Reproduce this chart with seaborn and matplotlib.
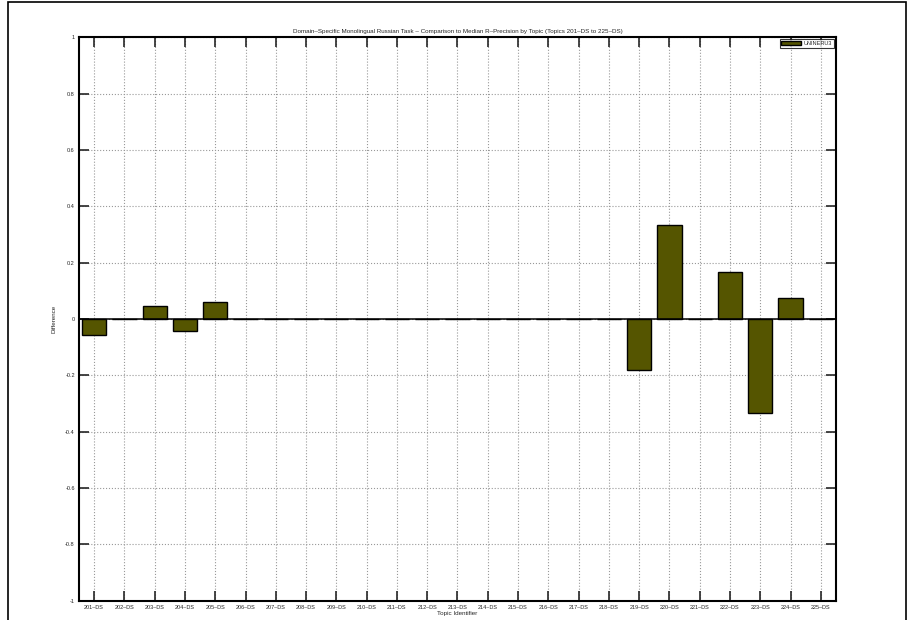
import matplotlib
matplotlib.use("Agg")
import matplotlib.pyplot as plt
import pandas as pd
import seaborn as sns
from matplotlib.patches import Rectangle

topics = [f"{n}\u2013DS" for n in range(201, 226)]
diff = [-0.056, 0.0, 0.047, -0.044, 0.061, 0.0, 0.0, 0.0, 0.0, 0.0,
        0.0, 0.0, 0.0, 0.0, 0.0, 0.0, 0.0, 0.0, -0.182, 0.333,
        0.0, 0.167, -0.333, 0.074, 0.0]
run_label = "UNINERU3"
y_ticks = [-1, -0.8, -0.6, -0.4, -0.2, 0, 0.2, 0.4, 0.6, 0.8, 1]

df = pd.DataFrame({"topic": topics, "diff": diff})

sns.set_style("white")
plt.rcParams["font.family"] = ["Liberation Sans", "DejaVu Sans"]

fig = plt.figure(figsize=(9.12, 6.2), dpi=100)
ax = fig.add_axes([0.0866, 0.031, 0.830, 0.909])

sns.barplot(data=df, x="topic", y="diff", color="#555500", edgecolor="black",
            linewidth=1.0, width=0.8, saturation=1, label=run_label, ax=ax, zorder=3)
# solid baseline across the whole axis, as in the original
ax.axhline(0, color="black", linewidth=1.1, zorder=4)

ax.set_xlim(-0.5, len(topics) - 0.5)
ax.set_ylim(-1, 1)
ax.set_yticks(y_ticks)
ax.set_yticklabels([f"{v:g}" for v in y_ticks])
ax.grid(True, linestyle=":", color="#999999", linewidth=0.8)
ax.set_axisbelow(True)
ax.tick_params(direction="in", length=7, width=1.2, labelsize=4,
               left=True, bottom=True, top=True, right=True, pad=3)
for sp in ax.spines.values():
    sp.set_linewidth(1.5)
    sp.set_color("black")

ax.set_title("Domain\u2013Specific Monolingual Russian Task \u2013 Comparison to Median "
             "R\u2013Precision by Topic (Topics 201\u2013DS to 225\u2013DS)",
             fontsize=4.5, pad=3)
ax.set_xlabel("Topic Identifier", fontsize=4.5, labelpad=1)
ax.set_ylabel("Difference", fontsize=4.5, labelpad=6)

leg = ax.legend(loc="upper right", fontsize=4, frameon=True, fancybox=False,
                edgecolor="black", handlelength=3.5, borderpad=0.3,
                borderaxespad=0.4, handletextpad=0.5)
leg.get_frame().set_linewidth(0.8)

fig.patches.append(Rectangle((8 / 912, -0.1), 898 / 912, 1.1 - 2 / 620,
                             transform=fig.transFigure, fill=False,
                             edgecolor="black", linewidth=1.2))

fig.savefig("out.png", dpi=100)
